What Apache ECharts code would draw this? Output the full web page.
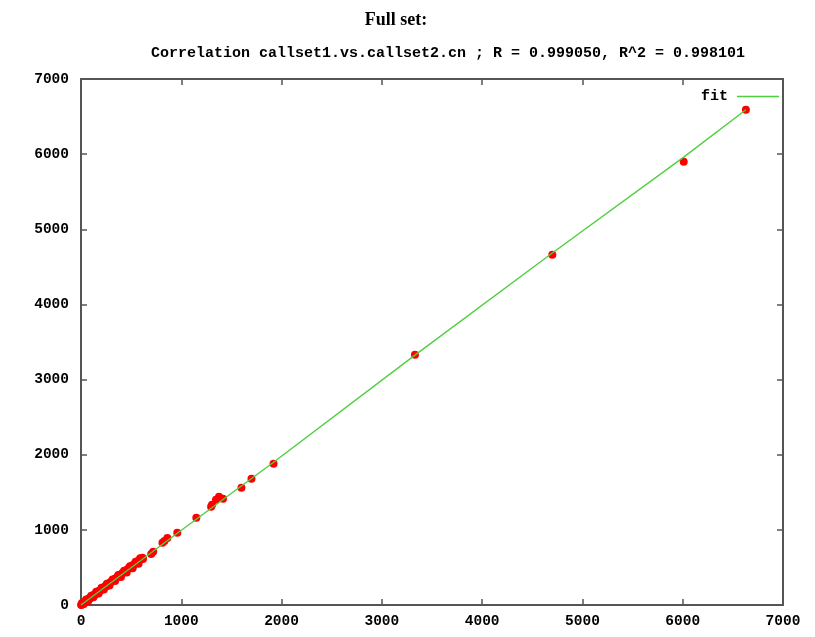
<!DOCTYPE html>
<html>
<head>
<meta charset="utf-8">
<script src="https://cdn.jsdelivr.net/npm/echarts@6/dist/echarts.min.js"></script>
<style>
  html, body { margin: 0; padding: 0; background: #ffffff; }
  #chart { width: 815px; height: 637px; }
</style>
</head>
<body>
<div id="chart"></div>
<script>
// Chart text
const mainTitle = 'Full set:';
const subTitle = 'Correlation callset1.vs.callset2.cn ; R = 0.999050, R^2 = 0.998101';
const fitName = 'fit';

// Axis ticks
const xTicks = [0, 1000, 2000, 3000, 4000, 5000, 6000, 7000];
const yTicks = [0, 1000, 2000, 3000, 4000, 5000, 6000, 7000];

// callset1 (x) vs callset2 (y) copy-number calls
const callsetPoints = [
  [2, 0], [5, 8], [8, 5], [12, 15], [15, 10], [18, 22], [22, 20], [25, 28], [30, 26],
  [34, 38], [38, 35], [42, 45], [46, 50], [50, 48], [55, 60], [60, 57], [64, 70],
  [70, 68], [75, 80], [80, 78], [86, 92], [92, 90], [98, 105], [105, 102], [112, 118],
  [118, 115], [125, 132], [132, 130], [140, 146], [148, 145], [155, 162], [162, 160],
  [170, 178], [178, 175], [186, 194], [195, 192], [204, 212], [212, 210], [220, 230],
  [230, 226], [240, 250], [250, 246], [260, 270], [270, 268], [280, 290], [290, 300],
  [300, 305], [312, 322], [325, 330], [338, 348], [350, 355], [362, 372], [375, 382],
  [388, 398], [400, 405], [412, 425], [425, 432], [438, 450], [450, 460], [462, 472],
  [475, 488], [488, 495], [500, 515], [512, 520], [525, 540], [535, 545], [548, 560],
  [560, 572], [572, 590], [585, 598], [600, 612], [612, 630],
  [10, 28], [28, 12], [52, 72], [72, 52], [102, 124], [124, 104], [152, 176], [176, 154],
  [205, 228], [228, 206], [258, 284], [284, 260], [315, 340], [340, 318], [372, 398],
  [398, 374], [430, 456], [456, 432], [488, 515], [515, 490], [545, 574], [574, 548],
  [590, 622], [618, 612],
  [700, 680], [720, 707], [812, 827], [832, 853], [861, 893], [960, 960], [1150, 1160],
  [1297, 1307], [1307, 1333], [1346, 1400], [1376, 1440], [1416, 1413], [1600, 1560],
  [1700, 1680], [1920, 1880], [3330, 3330], [4700, 4660], [6010, 5900], [6630, 6590]
];

// Fitted line vertices
const fitLine = [
  [0, 0], [960, 955], [1920, 1900], [3330, 3325], [4700, 4685], [6010, 5960], [6630, 6590]
];

const monoFont = '"Liberation Mono", "DejaVu Sans Mono", monospace';
const axisColor = '#555555';

const chart = echarts.init(document.getElementById('chart'), null, { renderer: 'canvas' });

const baseX = {
  type: 'value', min: 0, max: 7000, interval: 1000,
  axisLine: { show: true, onZero: false, lineStyle: { color: axisColor, width: 2 } },
  axisTick: { show: true, inside: true, length: 6, lineStyle: { color: axisColor, width: 1.5 } },
  splitLine: { show: false }
};
const baseY = {
  type: 'value', min: 0, max: 7000, interval: 1000,
  axisLine: { show: true, onZero: false, lineStyle: { color: axisColor, width: 2 } },
  axisTick: { show: true, inside: true, length: 6, lineStyle: { color: axisColor, width: 1.5 } },
  splitLine: { show: false }
};

chart.setOption({
  backgroundColor: '#ffffff',
  animation: false,
  title: [
    {
      text: mainTitle, left: 391, top: 6, textAlign: 'center',
      textStyle: { fontFamily: '"Liberation Serif", serif', fontWeight: 'bold', fontSize: 18, color: '#000' }
    },
    {
      text: subTitle, left: 443, top: 41, textAlign: 'center',
      textStyle: { fontFamily: monoFont, fontWeight: 'bold', fontSize: 15, color: '#000' }
    }
  ],
  legend: {
    data: [fitName], right: 31, top: 84, align: 'right',
    itemWidth: 42, itemHeight: 10, itemGap: 0,
    textStyle: { fontFamily: monoFont, fontWeight: 'bold', fontSize: 15, color: '#000', padding: [0, 4, 0, 0] },
    icon: 'path://M0,5 L42,5 L42,6.3 L0,6.3 Z'
  },
  grid: { left: 81, right: 32, top: 79, bottom: 32, containLabel: false },
  xAxis: [
    Object.assign({}, baseX, {
      position: 'bottom',
      axisLabel: { show: true, margin: 9, color: '#000', fontFamily: monoFont, fontWeight: 'bold', fontSize: 14.5,
        formatter: v => xTicks.includes(v) ? String(v) : '' }
    }),
    Object.assign({}, baseX, { position: 'top', axisLabel: { show: false } })
  ],
  yAxis: [
    Object.assign({}, baseY, {
      position: 'left',
      axisLabel: { show: true, margin: 12, color: '#000', fontFamily: monoFont, fontWeight: 'bold', fontSize: 14.5,
        formatter: v => yTicks.includes(v) ? String(v) : '' }
    }),
    Object.assign({}, baseY, { position: 'right', axisLabel: { show: false } })
  ],
  series: [
    {
      name: 'callset', type: 'scatter', xAxisIndex: 0, yAxisIndex: 0,
      data: callsetPoints, symbol: 'circle', symbolSize: 8,
      itemStyle: { color: '#ff0000', opacity: 1 }, z: 2
    },
    {
      name: fitName, type: 'line', xAxisIndex: 0, yAxisIndex: 0,
      data: fitLine, showSymbol: false, symbol: 'none',
      lineStyle: { color: '#4fcf3f', width: 1.4 },
      itemStyle: { color: '#4fcf3f' }, z: 3
    }
  ]
});
</script>
</body>
</html>
